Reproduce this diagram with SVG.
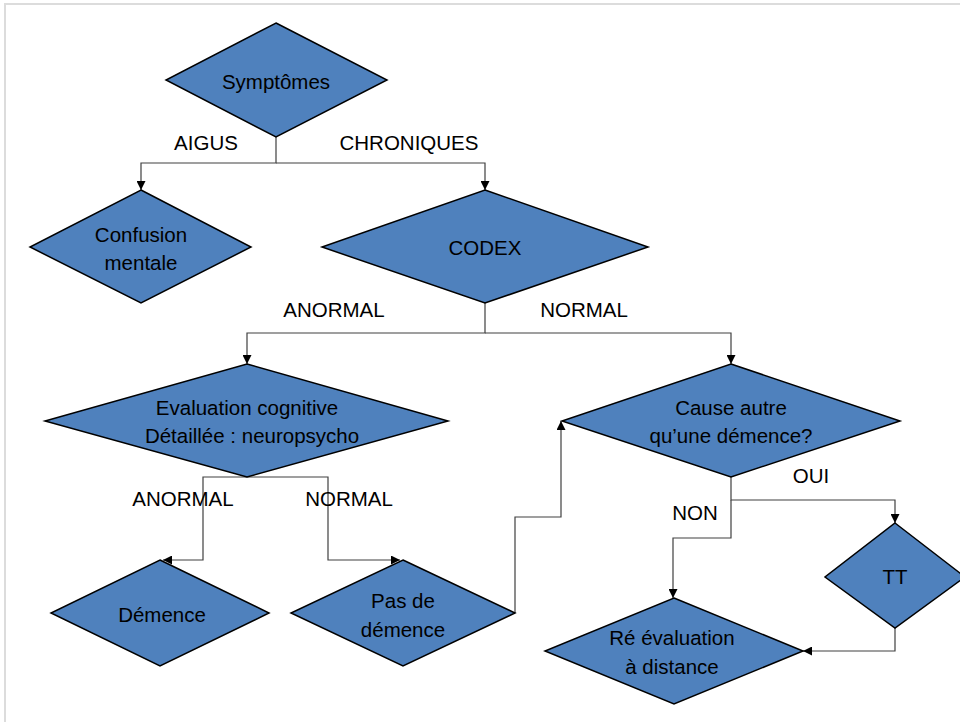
<svg xmlns="http://www.w3.org/2000/svg" width="960" height="722" viewBox="0 0 960 722">
<style>
.n{fill:#4F81BD;stroke:#000;stroke-width:1.5}
.t{font-family:"Liberation Sans",Arial,sans-serif;font-size:20.5px;fill:#000;text-anchor:middle}
.c{fill:none;stroke:#404040;stroke-width:1.2}
</style>
<defs>
<marker id="a" viewBox="0 0 10 10" refX="10" refY="5" markerWidth="9" markerHeight="9" markerUnits="userSpaceOnUse" orient="auto">
<path d="M0,0L10,5L0,10z" fill="#000"/>
</marker>
</defs>
<rect x="0" y="0" width="960" height="722" fill="#fff"/>
<path d="M5,722V4H960" fill="none" stroke="#dcdcdc" stroke-width="2"/>
<g id="connectors">
<path class="c" d="M276,137V163H141V190" marker-end="url(#a)"/>
<path class="c" d="M276,163H485V190" marker-end="url(#a)"/>
<path class="c" d="M485,303V333H247V364" marker-end="url(#a)"/>
<path class="c" d="M485,333H731V364" marker-end="url(#a)"/>
<path class="c" d="M247,477H203V560H163" marker-end="url(#a)"/>
<path class="c" d="M247,477H328V560H400" marker-end="url(#a)"/>
<path class="c" d="M515,613V517H561V421" marker-end="url(#a)"/>
<path class="c" d="M731,477V500H895V523" marker-end="url(#a)"/>
<path class="c" d="M731,500V538H673V598" marker-end="url(#a)"/>
<path class="c" d="M895,628V651H803" marker-end="url(#a)"/>
<text class="t" x="206" y="150">AIGUS</text>
<text class="t" x="409" y="150">CHRONIQUES</text>
<text class="t" x="334" y="317">ANORMAL</text>
<text class="t" x="584" y="317">NORMAL</text>
<text class="t" x="183" y="506">ANORMAL</text>
<text class="t" x="349" y="506">NORMAL</text>
<text class="t" x="811" y="483">OUI</text>
<text class="t" x="695" y="520">NON</text>
</g>
<g id="symptomes">
<path class="n" d="M276,23L387,80L276,137L166,80Z"/>
<text class="t" x="276" y="89">Symptômes</text>
</g>
<g id="confusion">
<path class="n" d="M141,190L251,247L141,303L30,247Z"/>
<text class="t" x="141" y="242">Confusion</text>
<text class="t" x="141" y="270">mentale</text>
</g>
<g id="codex">
<path class="n" d="M485,190L648,247L485,303L322,247Z"/>
<text class="t" x="485" y="255">CODEX</text>
</g>
<g id="evaluation">
<path class="n" d="M247,364L448,421L247,477L45,421Z"/>
<text class="t" x="247" y="415">Evaluation cognitive</text>
<text class="t" x="252" y="443">Détaillée : neuropsycho</text>
</g>
<g id="cause">
<path class="n" d="M731,364L900,421L731,477L562,421Z"/>
<text class="t" x="731" y="415">Cause autre</text>
<text class="t" x="731" y="443">qu’une démence?</text>
</g>
<g id="demence">
<path class="n" d="M160,560L269,613L160,666L51,613Z"/>
<text class="t" x="162" y="622">Démence</text>
</g>
<g id="pas-de-demence">
<path class="n" d="M403,560L515,613L403,666L291,613Z"/>
<text class="t" x="403" y="608">Pas de</text>
<text class="t" x="403" y="637">démence</text>
</g>
<g id="tt">
<path class="n" d="M895,523L965,577L895,628L825,577Z"/>
<text class="t" x="895" y="584">TT</text>
</g>
<g id="reevaluation">
<path class="n" d="M674,598L803,651L674,704L545,651Z"/>
<text class="t" x="672" y="645">Ré évaluation</text>
<text class="t" x="672" y="674">à distance</text>
</g>
</svg>
